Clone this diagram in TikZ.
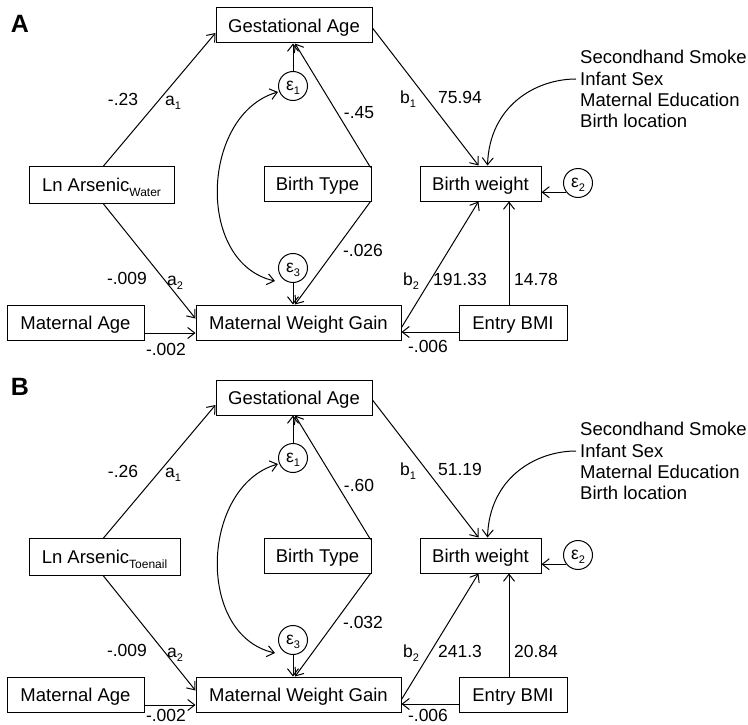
\documentclass[tikz,border=0pt]{standalone}
\usepackage{fontspec}
\setmainfont{Liberation Sans}
\usepackage{tikz}
\usetikzlibrary{calc,arrows.meta}
\newcommand{\lsub}[2][-4pt]{\smash{\raisebox{#1}{\fontsize{11}{11}\selectfont #2}}}
\newcommand{\medsub}[1]{\smash{\raisebox{-5pt}{\fontsize{12}{12}\selectfont #1}}}
\tikzset{
  varbox/.style={draw,line width=1pt,inner sep=0pt,minimum height=35pt,text height=13.3pt,text depth=0pt,font=\fontsize{18.5}{20}\selectfont},
  errcirc/.style={draw,circle,line width=1pt,inner sep=0pt,minimum size=29pt,font=\fontsize{17.5}{17.5}\selectfont},
  coeflbl/.style={inner sep=0pt,font=\fontsize{17.5}{19}\selectfont},
  covlbl/.style={anchor=west,inner sep=0pt,font=\fontsize{18.5}{20}\selectfont},
  effect/.style={->,line width=1pt},
  paneltag/.style={inner sep=0pt,font=\bfseries\fontsize{25}{25}\selectfont}
}

\begin{document}
\begin{tikzpicture}[x=1pt,y=-1pt,>={Straight Barb[length=7pt,width=11pt]}]
  \useasboundingbox (0,0) rectangle (748,725);

  % panel A
  \node[paneltag] (tagA) at (20,24) {A};
  \node[varbox,minimum width=156pt] (gaA) at (294,25.5) {Gestational Age};
  \node[varbox,minimum width=145pt,minimum height=37pt] (lnA) at (101.5,185) {Ln Arsenic\medsub{Water}};
  \node[varbox,minimum width=107pt] (btA) at (317.5,183.5) {Birth Type};
  \node[varbox,minimum width=121pt] (bwA) at (480.5,183.5) {Birth weight};
  \node[varbox,minimum width=137pt] (maA) at (75.5,322.5) {Maternal Age};
  \node[varbox,minimum width=205pt] (mwgA) at (298.5,322.5) {Maternal Weight Gain};
  \node[varbox,minimum width=108pt] (bmiA) at (513,322.5) {Entry BMI};
  \node[errcirc] (e1A) at (293,86) {ε\lsub{1}};
  \node[errcirc] (e2A) at (578,183) {ε\lsub{2}};
  \node[errcirc] (e3A) at (293,268) {ε\lsub{3}};
  \node[covlbl] (smokeA) at (580,57) {Secondhand Smoke};
  \node[covlbl] (sexA) at (580,79) {Infant Sex};
  \node[covlbl] (eduA) at (580,100) {Maternal Education};
  \node[covlbl] (locA) at (580,121) {Birth location};

  % paths into gestational age
  \draw[effect] ($(lnA.north)+(2,0)$) -- ($(gaA.west)+(0,7.5)$);
  \node[coeflbl] (c1A) at (123,99) {-.23};
  \node[coeflbl] (a1A) at (173,101) {a\lsub{1}};
  \draw[effect] (e1A.north) -- (e1A.north |- gaA.south);
  \draw[effect] ($(btA.north east)+(-1,2)$) -- ($(gaA.south)+(1,0)$);
  \node[coeflbl] (c2A) at (359,113) {-.45};

  % paths into birth weight
  \draw[effect] ($(gaA.east)+(0,2.5)$) -- ($(bwA.north)+(-2,0)$);
  \node[coeflbl] (b1A) at (408,97) {b\lsub{1}};
  \node[coeflbl] (c3A) at (460,97) {75.94};
  \draw[effect] ($(sexA.west)+(-4,0)$) .. controls +(-40,0) and +(2,-60) .. ($(bwA.north)+(7,0)$);
  \draw[effect] (e2A.218) -- (e2A.218 -| bwA.east);
  \draw[effect] ($(mwgA.east)+(0,5)$) -- ($(bwA.south)+(-2,0)$);
  \node[coeflbl] (b2A) at (411,279) {b\lsub{2}};
  \node[coeflbl] (c4A) at (460,279) {191.33};
  \draw[effect] ($(bmiA.north)+(-4,0)$) -- ($(bwA.south)+(28.5,0)$);
  \node[coeflbl] (c5A) at (536,279) {14.78};

  % paths into maternal weight gain
  \draw[effect] ($(lnA.south)+(2,0)$) -- ($(mwgA.west)+(0,-4)$);
  \node[coeflbl] (c6A) at (127,278) {-.009};
  \node[coeflbl] (a2A) at (175,281) {a\lsub{2}};
  \draw[effect] ($(maA.east)+(0,10.5)$) -- ($(mwgA.west)+(0,10.5)$);
  \node[coeflbl] (c7A) at (166,349) {-.002};
  \draw[effect] (e3A.south) -- (e3A.south |- mwgA.north);
  \draw[effect] ($(btA.south east)+(-1,0)$) -- ($(e3A.south |- mwgA.north)+(2,0)$);
  \node[coeflbl] (c8A) at (363,250) {-.026};
  \draw[effect] ($(bmiA.west)+(0,9.5)$) -- ($(mwgA.east)+(0,9.5)$);
  \node[coeflbl] (c9A) at (428,346) {-.006};
  \draw[<->,line width=1pt] ($(e3A)+(-18,13)$) .. controls +(-80,-18) and +(-77,22) .. ($(e1A)+(-15,6)$);

  % panel B
  \begin{scope}[yshift=-372pt]
  \node[paneltag] (tagB) at (20,15) {B};
  \node[varbox,minimum width=156pt] (gaB) at (294,25.5) {Gestational Age};
  \node[varbox,minimum width=151pt,minimum height=37pt] (lnB) at (104.5,185) {Ln Arsenic\medsub{Toenail}};
  \node[varbox,minimum width=107pt] (btB) at (317.5,183.5) {Birth Type};
  \node[varbox,minimum width=121pt] (bwB) at (480.5,183.5) {Birth weight};
  \node[varbox,minimum width=137pt] (maB) at (75.5,322.5) {Maternal Age};
  \node[varbox,minimum width=205pt] (mwgB) at (298.5,322.5) {Maternal Weight Gain};
  \node[varbox,minimum width=108pt] (bmiB) at (513,322.5) {Entry BMI};
  \node[errcirc] (e1B) at (293,86) {ε\lsub{1}};
  \node[errcirc] (e2B) at (578,183) {ε\lsub{2}};
  \node[errcirc] (e3B) at (293,268) {ε\lsub{3}};
  \node[covlbl] (smokeB) at (580,57) {Secondhand Smoke};
  \node[covlbl] (sexB) at (580,79) {Infant Sex};
  \node[covlbl] (eduB) at (580,100) {Maternal Education};
  \node[covlbl] (locB) at (580,121) {Birth location};

  % paths into gestational age
  \draw[effect] ($(lnB.north)+(-1,0)$) -- ($(gaB.west)+(0,7.5)$);
  \node[coeflbl] (c1B) at (123,99) {-.26};
  \node[coeflbl] (a1B) at (173,101) {a\lsub{1}};
  \draw[effect] (e1B.north) -- (e1B.north |- gaB.south);
  \draw[effect] ($(btB.north east)+(-1,2)$) -- ($(gaB.south)+(1,0)$);
  \node[coeflbl] (c2B) at (359,113) {-.60};

  % paths into birth weight
  \draw[effect] ($(gaB.east)+(0,2.5)$) -- ($(bwB.north)+(-2,0)$);
  \node[coeflbl] (b1B) at (408,97) {b\lsub{1}};
  \node[coeflbl] (c3B) at (460,97) {51.19};
  \draw[effect] ($(sexB.west)+(-4,0)$) .. controls +(-40,0) and +(2,-60) .. ($(bwB.north)+(7,0)$);
  \draw[effect] (e2B.218) -- (e2B.218 -| bwB.east);
  \draw[effect] ($(mwgB.east)+(0,5)$) -- ($(bwB.south)+(-2,0)$);
  \node[coeflbl] (b2B) at (411,279) {b\lsub{2}};
  \node[coeflbl] (c4B) at (460,279) {241.3};
  \draw[effect] ($(bmiB.north)+(-4,0)$) -- ($(bwB.south)+(28.5,0)$);
  \node[coeflbl] (c5B) at (536,279) {20.84};

  % paths into maternal weight gain
  \draw[effect] ($(lnB.south)+(-1,0)$) -- ($(mwgB.west)+(0,-4)$);
  \node[coeflbl] (c6B) at (127,278) {-.009};
  \node[coeflbl] (a2B) at (175,281) {a\lsub{2}};
  \draw[effect] ($(maB.east)+(0,10.5)$) -- ($(mwgB.west)+(0,10.5)$);
  \node[coeflbl] (c7B) at (166,343) {-.002};
  \draw[effect] (e3B.south) -- (e3B.south |- mwgB.north);
  \draw[effect] ($(btB.south east)+(-1,0)$) -- ($(e3B.south |- mwgB.north)+(2,0)$);
  \node[coeflbl] (c8B) at (363,250) {-.032};
  \draw[effect] ($(bmiB.west)+(0,9.5)$) -- ($(mwgB.east)+(0,9.5)$);
  \node[coeflbl] (c9B) at (428,343) {-.006};
  \draw[<->,line width=1pt] ($(e3B)+(-18,13)$) .. controls +(-80,-18) and +(-77,22) .. ($(e1B)+(-15,6)$);
  \end{scope}
\end{tikzpicture}
\end{document}
